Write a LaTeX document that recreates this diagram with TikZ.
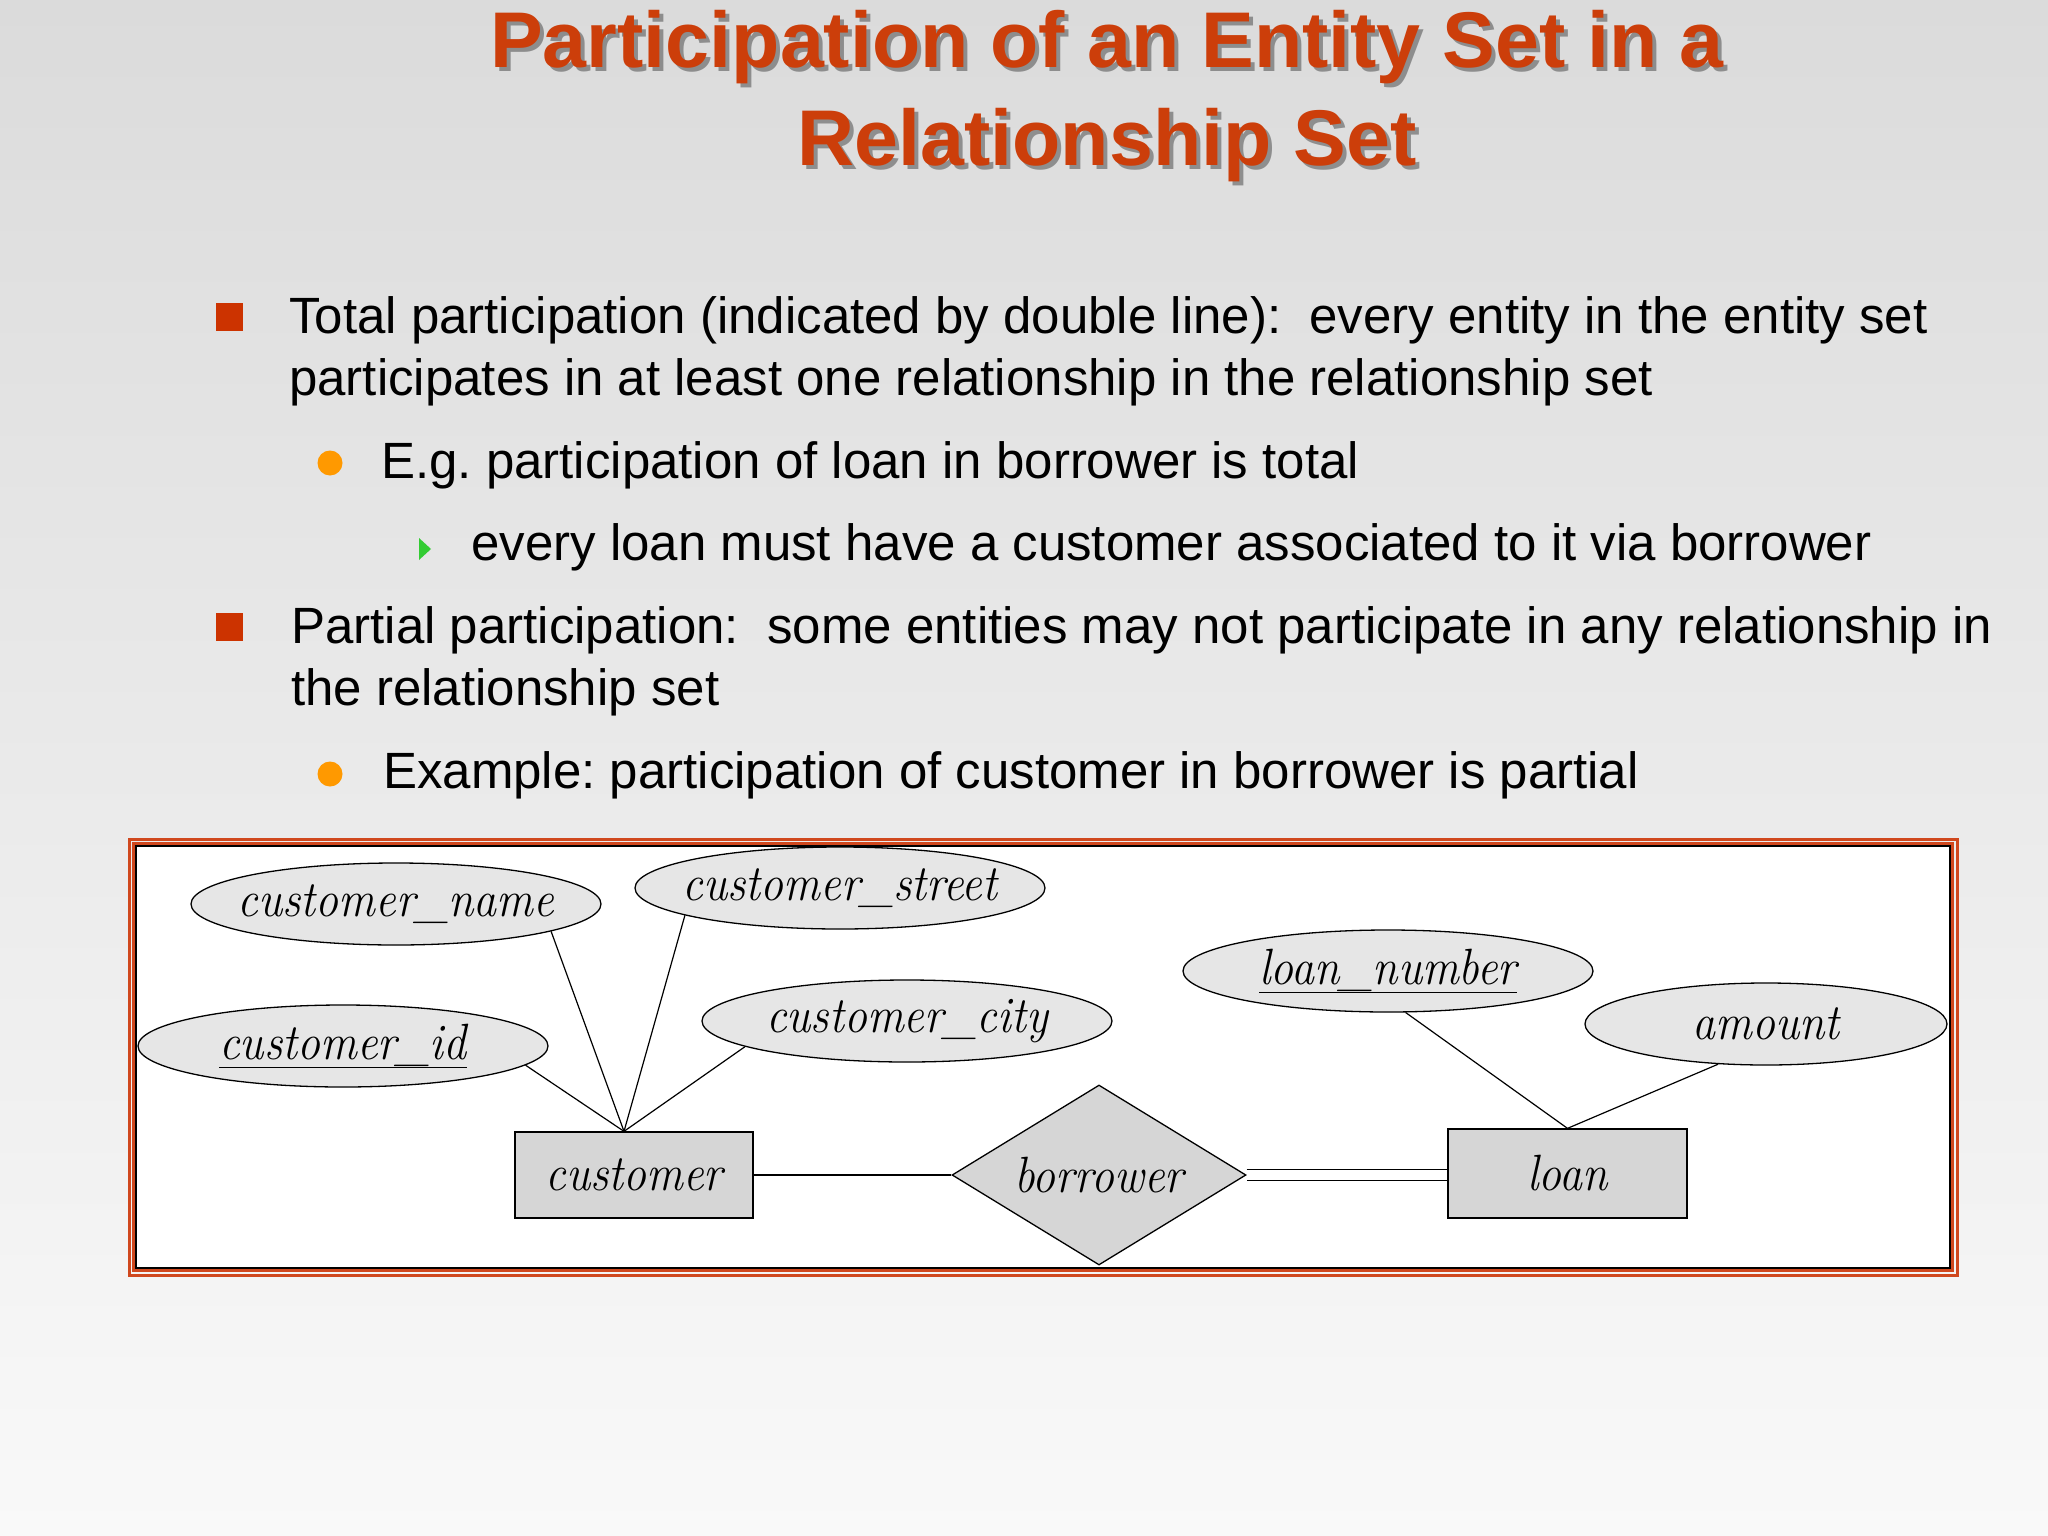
\documentclass[tikz,border=0pt]{standalone}
\usepackage{fontspec}
\newfontfamily\arialf{Liberation Sans}
\usetikzlibrary{shapes.geometric,calc}
\pgfdeclarelayer{bg}
\pgfdeclarelayer{edges}
\pgfsetlayers{bg,edges,main}
\definecolor{titlec}{RGB}{204,62,10}
\definecolor{sqc}{RGB}{204,51,0}
\definecolor{dotc}{RGB}{255,153,0}
\definecolor{tric}{RGB}{51,204,51}
\definecolor{frameor}{RGB}{208,72,30}
\definecolor{ellfill}{RGB}{230,230,230}
\definecolor{boxfill}{RGB}{214,214,214}
\definecolor{bgtop}{RGB}{219,219,219}
\definecolor{bgbot}{RGB}{249,249,249}
\frenchspacing
\newcommand{\ertxt}[1]{\makebox[0pt]{\scalebox{0.9}[1]{\fontsize{51}{51}\selectfont\itshape #1}}}
\tikzset{
  titlesty/.style={font=\arialf\bfseries\fontsize{79}{79}\selectfont, text=titlec, anchor=base, inner sep=0},
  shadowsty/.style={font=\arialf\bfseries\fontsize{79}{79}\selectfont, text=black!75, opacity=0.5, anchor=base, inner sep=0},
  body/.style={font=\arialf\fontsize{51}{51}\selectfont, anchor=base west, inner sep=0},
  attr/.style={ellipse, draw=black, line width=1.3, fill=ellfill, inner sep=0, minimum width=410, minimum height=82},
  ent/.style={rectangle, draw=black, line width=1.3, fill=boxfill, inner sep=0, minimum width=238, minimum height=86},
  rel/.style={diamond, aspect=1.63, draw=black, line width=1.3, fill=boxfill, inner sep=0, minimum width=294, minimum height=180},
  conn/.style={draw=black, line width=1.2},
}
\begin{document}
\begin{tikzpicture}[x=1pt,y=-1pt]
\useasboundingbox (0,0) rectangle (2048,1536);
\begin{pgfonlayer}{bg}
  \shade[top color=bgtop, bottom color=bgbot] (0,0) rectangle (2048,1536);
  % frame
  \draw[frameor, line width=3] (129,839) rectangle (1957,1275);
  \draw[frameor, line width=2.2] (133.5,843.5) rectangle (1952.5,1270.5);
  \fill[white] (136,846) rectangle (1950,1268);
  \draw[black, line width=1.5] (136,846) rectangle (1950,1268);
\end{pgfonlayer}

% title
\node[shadowsty] at (1111,72) {Participation of an Entity Set in a};
\node[shadowsty] at (1111,169) {Relationship Set};
\node[titlesty] (t1) at (1107,68) {Participation of an Entity Set in a};
\node[titlesty] (t2) at (1107,165) {Relationship Set};

% bullets
\fill[sqc] (216,303) rectangle (243,331);
\fill[sqc] (216,613) rectangle (243,641);
\fill[dotc] (330,463) circle (12.5);
\fill[dotc] (330,774) circle (12.5);
\fill[tric] (419,538) -- (431,549) -- (419,560) -- cycle;

\node[body] (l1) at (289,333) {Total participation (indicated by double line):~ every entity in the entity set};
\node[body] (l2) at (289,395) {participates in at least one relationship in the relationship set};
\node[body] (l3) at (381,478) {E.g. participation of loan in borrower is total};
\node[body] (l4) at (471,560) {every loan must have a customer associated to it via borrower};
\node[body] (l5) at (291,643) {Partial participation:~ some entities may not participate in any relationship in};
\node[body] (l6) at (291,705) {the relationship set};
\node[body] (l7) at (383,788) {Example: participation of customer in borrower is partial};

% ER diagram
\node[attr] (cname) at (396,904) {\ertxt{customer\_name}};
\node[attr] (cstreet) at (840,888) {\ertxt{customer\_street}};
\node[attr] (cid) at (343,1046) {\ertxt{\underline{customer\_id}}};
\node[attr] (ccity) at (907,1021) {\ertxt{customer\_city}};
\node[ent] (cust) at (634,1175) {\ertxt{customer}};
\node[rel] (borrow) at (1099,1175) {\ertxt{borrower}};
\node[ent, minimum width=239, minimum height=89] (loan) at (1567.5,1173.5) {\ertxt{loan}};
\node[attr] (lnum) at (1388,971) {\ertxt{\underline{loan\_number}}};
\node[attr, minimum width=362] (amt) at (1766,1024) {\ertxt{amount}};

\begin{pgfonlayer}{edges}
  \coordinate (ctop) at ($(cust.north)+(-10,0)$);
  \draw[conn] (ctop) -- (cname.-10.5);
  \draw[conn] (ctop) -- (cstreet.-170.4);
  \draw[conn] (ctop) -- (cid.-6.7);
  \draw[conn] (ctop) -- (ccity.-171.8);
  \draw[conn] (cust.east) -- (borrow.west);
  \draw[conn, double, double distance=9.5] (borrow.east) -- (borrow.east -| loan.west);
  \draw[conn] (loan.north) -- (lnum.-67.5);
  \draw[conn] (loan.north) -- (amt.-140.3);
\end{pgfonlayer}
\end{tikzpicture}
\end{document}
